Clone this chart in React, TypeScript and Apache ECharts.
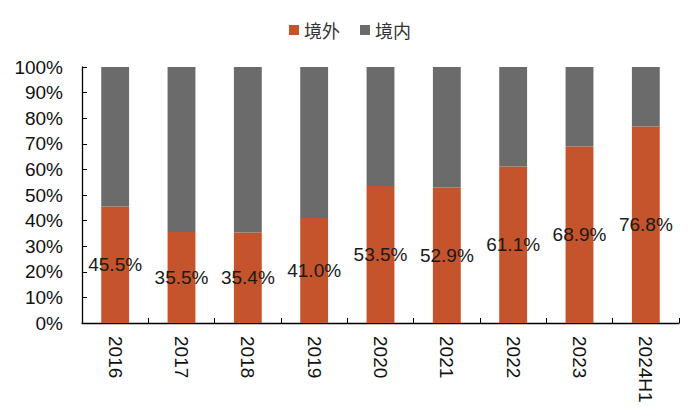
import React, { useEffect, useRef } from "react";
import * as echarts from "echarts";

const categories = ["2016", "2017", "2018", "2019", "2020", "2021", "2022", "2023", "2024H1"];
const overseas = [45.5, 35.5, 35.4, 41.0, 53.5, 52.9, 61.1, 68.9, 76.8];
const domestic = [54.5, 64.5, 64.6, 59.0, 46.5, 47.1, 38.9, 31.1, 23.2];
const yTicks = [0, 10, 20, 30, 40, 50, 60, 70, 80, 90, 100];

const FONT = "'Liberation Sans', Arial, sans-serif";

export default function App() {
  const ref = useRef<HTMLDivElement>(null);
  useEffect(() => {
    if (!ref.current) return;
    const chart = echarts.init(ref.current, null, { renderer: "svg" });
    chart.setOption({
      animation: false,
      backgroundColor: "#ffffff",
      textStyle: { fontFamily: FONT },
      legend: {
        top: 16,
        left: "center",
        itemWidth: 10,
        itemHeight: 10,
        itemGap: 20,
        icon: "rect",
        textStyle: { fontSize: 18, color: "#333", fontFamily: "'Noto Sans CJK SC', sans-serif" },
        data: ["境外", "境内"],
      },
      grid: { left: 82, right: 21, top: 67, bottom: 97, containLabel: false },
      xAxis: {
        type: "category",
        data: categories,
        axisLine: { lineStyle: { color: "#000", width: 1.3 } },
        axisTick: { show: true, inside: true, length: 5, lineStyle: { color: "#000" } },
        axisLabel: { rotate: -90, margin: 13, fontSize: 19, color: "#111", fontFamily: FONT },
      },
      yAxis: {
        type: "value",
        min: yTicks[0],
        max: yTicks[yTicks.length - 1],
        interval: 10,
        splitLine: { show: false },
        axisLine: { show: true, lineStyle: { color: "#000", width: 1.3 } },
        axisTick: { show: true, inside: true, length: 5, lineStyle: { color: "#000" } },
        axisLabel: { formatter: "{value}%", margin: 19, fontSize: 19, color: "#111", fontFamily: FONT },
      },
      series: [
        {
          name: "境外",
          type: "bar",
          stack: "total",
          barWidth: "42%",
          data: overseas,
          itemStyle: { color: "#c5532b" },
          label: {
            show: true,
            position: "inside",
            fontSize: 19,
            color: "#1a1a1a",
            fontFamily: FONT,
            formatter: (p: any) => Number(p.value).toFixed(1) + "%",
          },
        },
        {
          name: "境内",
          type: "bar",
          stack: "total",
          barWidth: "42%",
          data: domestic,
          itemStyle: { color: "#6b6b6b" },
        },
      ],
    });
    return () => chart.dispose();
  }, []);
  return <div ref={ref} style={{ width: 700, height: 420, position: "absolute", left: 0, top: 0 }} />;
}
